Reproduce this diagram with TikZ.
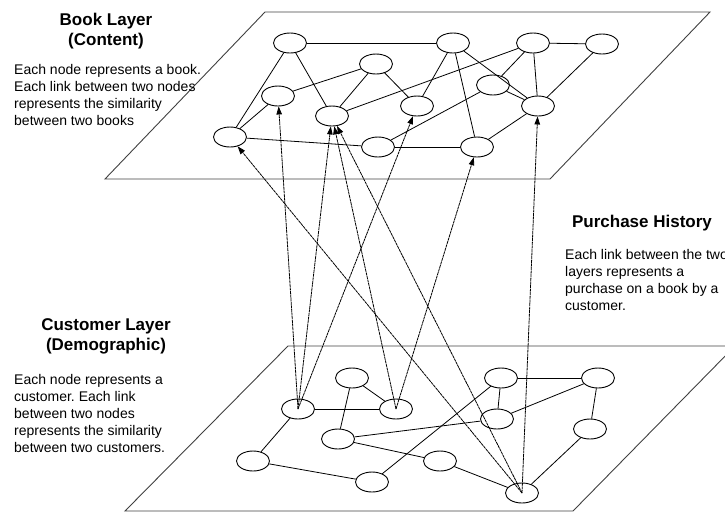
\documentclass[tikz,border=0pt]{standalone}
\usepackage{fontspec}
\setmainfont{Liberation Sans}
\frenchspacing
\usetikzlibrary{arrows.meta,shapes.geometric}

\begin{document}
\begin{tikzpicture}[
  x=1pt, y=-1pt,
  layer/.style={draw=black!75, line width=0.9pt},
  item/.style={draw, ellipse, line width=0.9pt, minimum width=33pt,
               minimum height=20pt, inner sep=0pt},
  link/.style={line width=0.8pt},
  purchase/.style={line width=0.8pt, dash pattern=on 3pt off 0.6pt,
                   -{Triangle[length=8pt,width=5.5pt]}},
  title/.style={font=\bfseries\fontsize{17}{20}\selectfont, align=center},
  note/.style={font=\fontsize{14}{17}\selectfont, align=left,
               anchor=north west, inner sep=0pt}
]
\useasboundingbox (0,0) rectangle (725,512);
\clip (0,0) rectangle (725,512);

% the two layers
\draw[layer] (265,12) -- (710,12) -- (550,179) -- (105,179) -- cycle;
\draw[layer] (288,346) -- (735,346) -- (573,511) -- (125,511) -- cycle;

% texts
\node[title] (booktitle) at (106,31) {Book Layer\\(Content)};
\node[note] (booknote) at (14,64) {Each node represents a book.\\Each link between two nodes\\represents the similarity\\between two books};
\node[title] (custtitle) at (106,336) {Customer Layer\\(Demographic)};
\node[note] (custnote) at (14,374) {Each node represents a\\customer. Each link\\between two nodes\\represents the similarity\\between two customers.};
\node[title] (purchtitle) at (642,223) {Purchase History};
\node[note] (purchnote) at (565,249) {Each link between the two\\layers represents a\\purchase on a book by a\\customer.};

% book layer
\node[item] (bk1) at (290,43) {};
\node[item] (bk2) at (453,43) {};
\node[item] (bk3) at (533,43) {};
\node[item] (bk4) at (602,44) {};
\node[item] (bk5) at (376,64) {};
\node[item] (bk6) at (278,96) {};
\node[item] (bk7) at (332,116) {};
\node[item] (bk8) at (417,106) {};
\node[item] (bk9) at (493,85) {};
\node[item] (bk10) at (538,106) {};
\node[item] (bk11) at (230,137) {};
\node[item] (bk12) at (378,147) {};
\node[item] (bk13) at (477,147) {};

\draw[link] (bk1) -- (bk2);
\draw[link] (bk1) -- (bk11);
\draw[link] (bk1) -- (bk7);
\draw[link] (bk5) -- (bk6);
\draw[link] (bk5) -- (bk7);
\draw[link] (bk5) -- (bk8);
\draw[link] (bk6) -- (bk11);
\draw[link] (bk11) -- (bk12);
\draw[link] (bk7) -- (bk3);
\draw[link] (bk2) -- (bk8);
\draw[link] (bk2) -- (bk13);
\draw[link] (bk2) -- (bk10);
\draw[link] (bk3) -- (bk9);
\draw[link] (bk3) -- (bk10);
\draw[link] (bk3) -- (bk4);
\draw[link] (bk4) -- (bk10);
\draw[link] (bk9) -- (bk10);
\draw[link] (bk12) -- (bk9);
\draw[link] (bk12) -- (bk13);
\draw[link] (bk13) -- (bk10);

% customer layer
\node[item] (cu1) at (352,378) {};
\node[item] (cu2) at (501,378) {};
\node[item] (cu3) at (598,378) {};
\node[item] (cu4) at (298,409) {};
\node[item] (cu5) at (396,409) {};
\node[item] (cu6) at (497,419) {};
\node[item] (cu7) at (338,439) {};
\node[item] (cu8) at (590,429) {};
\node[item] (cu9) at (253,461) {};
\node[item] (cu10) at (440,461) {};
\node[item] (cu11) at (372,482) {};
\node[item] (cu12) at (522,493) {};

\draw[link] (cu4) -- (cu9);
\draw[link] (cu4) -- (cu5);
\draw[link] (cu1) -- (cu5);
\draw[link] (cu1) -- (cu7);
\draw[link] (cu7) -- (cu6);
\draw[link] (cu7) -- (cu10);
\draw[link] (cu9) -- (cu11);
\draw[link] (cu11) -- (cu2);
\draw[link] (cu2) -- (cu6);
\draw[link] (cu2) -- (cu3);
\draw[link] (cu6) -- (cu3);
\draw[link] (cu3) -- (cu8);
\draw[link] (cu8) -- (cu12);
\draw[link] (cu10) -- (cu12);

% purchases
\draw[purchase] (cu4.center) -- (bk6);
\draw[purchase] (cu4.center) -- (bk7);
\draw[purchase] (cu4.center) -- (bk8);
\draw[purchase] (cu5.center) -- (bk7);
\draw[purchase] (cu5.center) -- (bk13);
\draw[purchase] (cu12.center) -- (bk7);
\draw[purchase] (cu12.center) -- (bk11);
\draw[purchase] (cu12.center) -- (bk10);
\end{tikzpicture}
\end{document}
